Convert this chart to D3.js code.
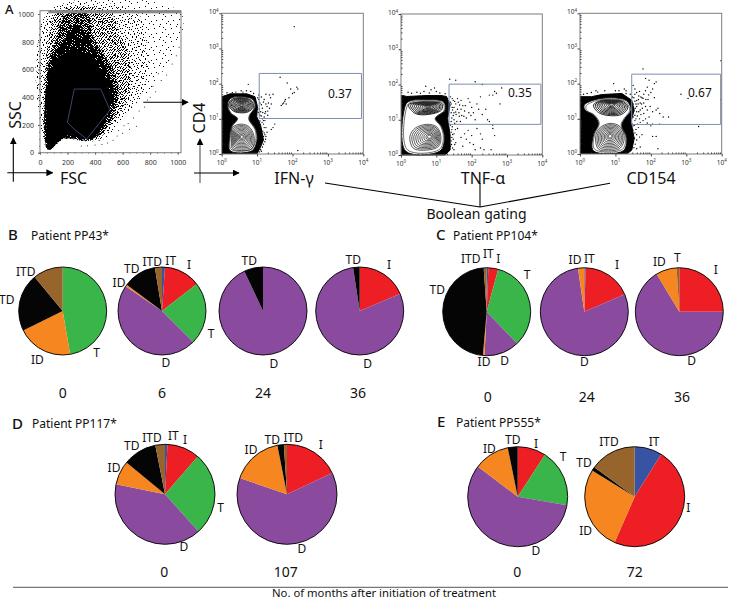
<!DOCTYPE html>
<html><head><meta charset="utf-8">
<script src="https://cdn.jsdelivr.net/npm/d3@7"></script>
<style>
html,body{margin:0;padding:0;background:#fff}
svg{display:block}
text{font-family:"Noto Sans",sans-serif;fill:#111}
</style></head><body>
<svg id="c" width="729" height="599" viewBox="0 0 729 599"></svg>
<script>
// ---------- pie data: percent per cytokine subset, clockwise from 12 o'clock ----------
const subsets = ["IT","I","T","D","ID","TD","ITD"];
const subsetColors = ["#3953a4","#ed1f24","#39b54a","#8a4b9e","#f6861f","#050505","#97652c"];
const pp43m0   = [0,0,47.3,0,20.4,21.3,11.0];
const pp43m6   = [1.1,13.4,23,47,0.7,12.2,2.6];
const pp43m24  = [0,0,0,93,0,7,0];
const pp43m36  = [0,18.6,0,79,0,2.4,0];
const pp104m0  = [0.6,3.6,33.7,12.9,0.6,47.5,1.1];
const pp104m24 = [0.5,18,0,79.2,2.3,0,0];
const pp104m36 = [0,25,0,66.4,7.6,0,1];
const pp117m0  = [0.8,10.6,26.9,39.9,7.8,10.9,3.1];
const pp117m107= [0,18,0,62.3,16.6,2.1,1];
const pp555m0  = [0,9.2,18.5,57.6,11.5,3.2,0];
const pp555m72 = [8.9,47.7,0,0,27.2,1.2,15];

// ---------- flow cytometry data (panel A) ----------
const fscTicks = [0,200,400,600,800,1000];
const sscTicks = [0,200,400,600,800,1000];
const logTicks = [1,10,100,1000,10000];
const gateValues = ["0.37","0.35","0.67"];
const markerNames = ["IFN-γ","TNF-α","CD154"];
// scatter density outlines in [FSC,SSC], thinnest first
const fscBand1 = [[60,1017],[1016,1017],[1016,800],[900,600],[780,430],[600,260],[440,95],[320,82],[170,95],[60,19]];
const fscBand2 = [[60,1017],[700,1017],[760,850],[790,650],[740,440],[620,280],[470,100],[320,84],[170,97],[60,19]];
const fscBand3 = [[60,800],[130,1017],[500,1017],[580,860],[640,720],[660,560],[640,400],[540,240],[430,105],[320,85],[170,100],[60,19]];
const fscBand4 = [[60,640],[110,800],[190,1000],[350,1010],[380,850],[430,760],[520,620],[570,480],[550,320],[460,150],[340,90],[170,100],[60,20]];
const fscBand5 = [[60,600],[110,720],[180,820],[250,920],[320,880],[380,770],[440,690],[510,550],[540,400],[480,220],[390,105],[300,95],[170,105],[60,22]];
const fscSolid = [[60,31],[60,520],[85,600],[121,680],[194,720],[280,730],[380,680],[440,600],[490,480],[510,370],[480,250],[410,130],[339,100],[250,130],[157,110],[73,31]];
const fscGate  = [[249,459],[441,459],[508,308],[339,99],[254,164],[199,219]];
const fscOutliers = [[560,120],[600,140],[570,160],[640,210],[680,250],[720,300],[760,330],[700,190],[650,170],[800,400],[840,440],[880,520],[920,560],[960,640],[990,700],[1010,760],[820,480],[860,570],[780,380],[610,195],[530,90],[490,70],[450,60],[400,55],[345,50],[300,48]];
// contour plot data, exponents [log10 x, log10 y]
const ifnBlob = [[.01,0],[.01,1.63],[.235,1.71],[.71,1.71],[.94,1.63],[1.01,1.35],[.99,1.06],[1.10,.82],[1.18,.40],[1.08,.16],[.99,0]];
const ifnOuter = [[.16,1.39],[.25,1.58],[.56,1.63],[.88,1.55],[.95,1.34],[.80,1.11],[.78,.98],[.97,.68],[.99,.35],[.85,.09],[.24,.09],[.22,.45],[.28,.78],[.44,1.01],[.25,1.16]];
const ifnUpper = [[.2,1.4],[.3,1.55],[.56,1.6],[.82,1.52],[.9,1.34],[.75,1.2],[.56,1.17],[.33,1.22]];
const ifnLower = [[.3,.75],[.56,.85],[.8,.75],[.92,.45],[.85,.15],[.56,.1],[.3,.15],[.28,.45]];
const ifnCentres = [[.565,1.39],[.565,.49]];
const ifnGate = [1.06,3.95,1.01,2.29];
const ifnDots = [[2.05,3.62],[1.65,2.18],[1.85,2.02],[1.95,1.85],[2.12,1.9],[2.15,1.85],[2.05,1.75],[2.0,1.72],[1.9,1.6],[1.8,1.55],[1.75,1.45],[1.72,1.42],[1.68,1.38],[1.78,1.5],[1.82,1.42],[1.45,1.7],[1.35,1.68],[1.38,1.6],[1.25,1.7],[1.2,1.55],[1.28,1.35],[1.35,1.3],[1.22,1.15],[1.3,1.1],[1.5,.85],[1.45,.75],[1.4,.7],[2.15,.1],[.75,1.98],[.55,1.8],[.7,1.8],[.82,1.78],[1.05,1.55],[1.08,1.45],[1.12,1.4],[1.15,1.3],[1.1,1.2],[1.08,1.1],[1.15,1.0],[1.22,.95],[1.18,.85],[1.25,.75],[1.2,.6],[1.25,.5],[1.22,.35],[1.15,.2],[1.1,.12],[1.05,1.68],[1.12,1.62],[1.18,1.48],[1.25,1.42],[1.32,1.45],[1.4,1.42],[1.3,1.22],[1.12,.7],[1.28,.62],[1.02,1.6],[1.06,1.28],[1.04,1.18],[1.12,1.08],[1.18,.95],[1.14,.9],[1.2,.75],[1.16,.65],[1.22,.55],[1.18,.5],[1.24,.42],[1.18,.28],[1.12,.08],[1.06,.06],[.4,1.76],[.3,1.74],[.6,1.76],[.9,1.72],[.15,1.74],[1.08,.94],[1.24,1.2],[1.16,1.18],[1.2,1.05]];
const tnfBlob = [[.02,0],[0,1.7],[.16,1.66],[.58,1.68],[1.06,1.70],[1.29,1.66],[1.39,1.42],[1.32,1.04],[1.39,.57],[1.39,.14],[1.25,0]];
const tnfOuter = [[.13,1.42],[.25,1.53],[.77,1.57],[1.2,1.51],[1.25,1.28],[.98,1.04],[1.15,.80],[1.23,.47],[1.10,.11],[.13,.11]];
const tnfUpper = [[.21,1.42],[.4,1.49],[.77,1.51],[1.15,1.46],[1.15,1.28],[.77,1.15],[.4,1.18]];
const tnfLower = [[.25,.52],[.4,.76],[.73,.87],[1.01,.80],[1.13,.52],[1.06,.24],[.73,.14],[.35,.19]];
const tnfCentres = [[.77,1.37],[.82,.52]];
const tnfGate = [1.36,3.96,.87,2.01];
const tnfDots = [[1.4,1.5],[1.45,1.35],[1.5,1.2],[1.55,1.45],[1.6,1.3],[1.65,1.1],[1.7,1.55],[1.75,1.4],[1.8,1.25],[1.85,1.05],[1.9,1.6],[1.95,1.5],[2.0,1.35],[2.05,1.2],[2.1,1.0],[2.15,1.45],[2.2,1.3],[2.25,1.65],[2.3,1.15],[2.4,1.3],[2.45,1.0],[2.5,.95],[2.5,1.7],[2.6,.85],[2.6,.75],[2.65,1.8],[2.7,1.75],[2.8,1.45],[2.85,1.9],[2.6,1.7],[1.38,2.15],[1.55,2.12],[2.1,2.08],[2.3,2.0],[.7,1.95],[.85,1.85],[1.0,1.8],[.55,1.75],[.3,1.75],[.95,1.9],[1.45,.8],[1.5,.6],[1.55,.35],[1.6,.75],[1.7,.5],[1.75,.25],[1.8,.6],[1.85,.45],[1.9,.7],[1.95,.35],[2.0,.55],[2.05,.3],[2.15,.75],[2.25,.6],[2.25,.2],[2.3,.45],[2.35,.15],[2.55,.15],[2.65,.55],[2.1,.15],[1.5,.15],[1.4,1.65],[1.42,1.2],[1.44,1.05],[1.42,.95],[1.4,.85],[1.42,.65],[1.44,.5],[1.42,.4],[1.4,.25],[1.46,.2],[1.48,1.55],[1.5,1.0],[1.52,.9],[1.48,.45],[1.56,1.15],[1.58,.95],[1.62,1.5],[1.64,1.2],[1.68,.95],[1.7,1.3],[1.72,1.12],[1.78,1.1],[1.82,1.4],[1.45,1.6],[1.42,1.45],[1.46,1.28],[1.48,1.12],[1.44,.72],[1.46,.58],[1.43,.3],[1.5,1.35],[1.52,1.52],[1.55,1.22],[1.54,.72],[1.52,.3],[1.6,1.6],[1.66,1.42],[1.92,1.2],[1.98,1.12],[.2,1.78],[.45,1.78],[.65,1.8],[.8,1.76],[1.1,1.76],[1.25,1.74]];
const cdBlob = [[0,0],[0,1.63],[.33,1.63],[.61,1.69],[1.18,1.72],[1.46,1.53],[1.53,1.25],[1.44,.92],[1.53,.44],[1.46,.11],[1.32,0]];
const cdOuter = [[.12,1.39],[.38,1.53],[.89,1.6],[1.32,1.51],[1.44,1.25],[1.27,1.01],[1.18,.82],[1.32,.45],[1.22,.09],[.38,.09],[.38,.54],[.52,.87],[.38,1.11],[.14,1.25]];
const cdUpper = [[.38,1.39],[.56,1.51],[.89,1.54],[1.22,1.49],[1.35,1.32],[1.18,1.13],[.85,1.09],[.52,1.18]];
const cdLower = [[.44,.45],[.54,.73],[.85,.87],[1.13,.78],[1.25,.45],[1.13,.16],[.8,.09],[.52,.14]];
const cdCentres = [[.89,1.41],[.85,.51]];
const cdGate = [1.46,3.97,.84,2.27];
const cdDots = [[1.55,1.7],[1.65,1.55],[1.7,1.45],[1.75,1.6],[1.8,1.7],[1.85,1.8],[1.9,1.9],[1.95,2.1],[2.0,1.75],[2.05,1.85],[2.1,2.0],[2.15,2.05],[2.1,1.6],[1.6,1.35],[1.7,1.25],[1.8,1.15],[1.85,1.35],[1.9,1.25],[1.95,1.05],[2.05,1.2],[2.15,1.25],[2.2,1.3],[2.25,1.15],[2.35,1.05],[2.5,1.05],[2.85,1.7],[3.05,1.58],[3.98,2.65],[3.97,1.55],[3.35,.78],[1.5,.8],[1.55,.6],[1.6,.4],[1.65,.75],[1.7,.2],[1.75,.55],[1.6,.15],[2.05,.5],[2.15,.5],[2.05,.85],[2.2,.15],[2.0,.8],[.95,2.0],[.45,1.8],[1.25,1.85],[1.3,1.8],[1.5,1.95],[1.55,1.85],[1.85,2.15],[2.25,.85],[1.78,2.42],[1.52,1.6],[1.55,1.5],[1.58,1.42],[1.56,1.3],[1.6,1.2],[1.55,1.1],[1.58,1.0],[1.62,1.08],[1.68,1.0],[1.72,1.12],[1.76,1.3],[1.72,1.62],[1.6,1.75],[1.68,1.78],[1.8,1.45],[1.92,1.55],[1.98,1.35],[1.55,.95],[1.62,.85],[1.7,.9],[1.78,.95],[1.58,.7],[1.54,.45],[1.56,.28],[1.52,.18],[1.6,.55],[1.68,.48],[1.85,1.0],[1.9,.88],[1.48,1.62],[1.5,1.42],[1.52,1.22],[1.5,1.05],[1.48,.85],[1.5,.68],[1.47,.38],[1.46,.25],[1.54,.82],[1.6,1.52],[1.64,1.42],[1.66,1.2],[1.74,1.42],[1.66,1.65],[1.78,1.58],[1.86,1.55],[1.94,1.68],[.1,1.7],[.2,1.72],[.32,1.75],[.5,1.76],[.7,1.8],[1.0,1.8],[1.1,1.8],[1.3,1.72],[1.42,1.7]];

// ---------- layout (kept apart from the values) ----------
const svg = d3.select("#c");
const BOXC = "#7d7d7d", GATE = "#7f8cb4";
const pies = [
 {v:pp43m0,cx:62.7,cy:311,r:44,month:"0",mx:62.7,my:398,labels:[["ITD",25.7,276],["TD",6.7,304],["ID",37.3,364],["T",96.7,357]]},
 {v:pp43m6,cx:162,cy:311,r:44,month:"6",mx:162,my:398,labels:[["ID",119,287],["TD",131.7,273],["ITD",152.3,266],["IT",170.7,265],["I",189,269],["T",211,338],["D",166,367]]},
 {v:pp43m24,cx:263,cy:311,r:44,month:"24",mx:263,my:398,labels:[["TD",249.3,265],["D",274,368]]},
 {v:pp43m36,cx:359.7,cy:311,r:44,month:"36",mx:358,my:398,labels:[["TD",353.3,264],["I",389,269],["D",367.7,368]]},
 {v:pp104m0,cx:486.7,cy:311.7,r:44,month:"0",mx:487.7,my:402,labels:[["ITD",470.7,263],["IT",488.3,258],["I",498.3,263],["T",527,279],["TD",437.3,294],["ID",484,366],["D",504.7,365]]},
 {v:pp104m24,cx:584.3,cy:311.7,r:44,month:"24",mx:586.7,my:402,labels:[["ID",575,264],["IT",589.3,263],["I",617,269],["D",584.3,366]]},
 {v:pp104m36,cx:679.3,cy:311.7,r:44,month:"36",mx:682,my:402,labels:[["ID",659.3,266],["T",677.3,262],["I",715.7,274],["D",691.7,365]]},
 {v:pp117m0,cx:165,cy:494.3,r:50,month:"0",mx:164.3,my:577,labels:[["ITD",152,442],["IT",173.3,440],["I",185,444],["TD",131.7,450],["ID",114,472],["T",220.7,512],["D",184,551]]},
 {v:pp117m107,cx:287,cy:494.3,r:50,month:"107",mx:285.7,my:577,labels:[["TD",272.3,444],["ITD",293.3,442],["I",320.7,449],["ID",251,454],["D",302,553]]},
 {v:pp555m0,cx:517.7,cy:496.7,r:50,month:"0",mx:517.3,my:577,labels:[["TD",512.7,444],["ID",489.3,453],["I",536,448],["T",563,461],["D",536,555]]},
 {v:pp555m72,cx:634.7,cy:496.7,r:50,month:"72",mx:634.7,my:577,labels:[["ITD",609,446],["IT",654,446],["TD",584,467],["I",688.3,512],["ID",585.7,535]]}
];
const headings = [
 ["A",5,14,13],["B",8,240,15],["C",436,240,15],["D",12,429,15],["E",437,427,15],
 ["Patient PP43*",31,240,12],["Patient PP104*",453,240,12],["Patient PP117*",32,428,12],["Patient PP555*",456,427,12]
];

// ---------- stipple textures: dots in a repeating tile ----------
const defs = svg.append("defs");
const textures = {
 t1:{w:17,h:13,dots:[[1,2],[6,0],[12,3],[15,8],[3,7],[9,6],[7,11],[13,10],[0,11],[10,1]]},
 t2:{w:13,h:11,dots:[[0,1],[4,0],[8,2],[11,0],[2,4],[6,3],[10,5],[12,7],[1,7],[5,6],[8,8],[3,9],[7,10],[11,10]]},
 t3:{w:11,h:7,dots:[[0,0],[2,0],[5,0],[8,0],[1,1],[4,1],[7,1],[10,1],[3,2],[6,2],[9,3],[0,3],[2,4],[5,4],[8,4],[10,5],[1,5],[4,5],[7,6],[3,6]]},
 t4:{w:7,h:5,dots:[[0,0],[1,0],[3,0],[5,0],[6,0],[1,1],[2,1],[4,1],[6,1],[0,2],[3,2],[4,2],[5,2],[1,3],[2,3],[5,3],[6,3],[0,4],[3,4],[4,4]]},
 t5:{w:5,h:3,dots:[[0,0],[1,0],[3,0],[4,0],[1,1],[2,1],[3,1],[0,2],[2,2],[3,2],[4,2]]}
};
Object.entries(textures).forEach(([k,t])=>{
  const p = defs.append("pattern").attr("id",k).attr("patternUnits","userSpaceOnUse").attr("width",t.w).attr("height",t.h);
  p.selectAll("rect").data(t.dots).join("rect").attr("x",d=>d[0]).attr("y",d=>d[1]).attr("width",1).attr("height",1).attr("fill","#000");
});
defs.append("filter").attr("id","soft").attr("x","0").attr("y","0").attr("width","1").attr("height","1")
  .append("feGaussianBlur").attr("stdDeviation",.3);
const arrowM = defs.append("marker").attr("id","ah").attr("viewBox","0 0 10 10").attr("refX",9).attr("refY",5).attr("markerWidth",7).attr("markerHeight",7).attr("markerUnits","userSpaceOnUse").attr("orient","auto");
arrowM.append("path").attr("d","M0,0L10,5L0,10Z").attr("fill","#000");

// ---------- scatter plot FSC / SSC ----------
(function(){
  const x = d3.scaleLinear().domain([0,1024]).range([40,181]);
  const y = d3.scaleLinear().domain([0,1024]).range([152.7,10.7]);
  const g = svg.append("g");
  const poly = d3.line().x(d=>x(d[0])).y(d=>y(d[1])).curve(d3.curveLinearClosed);
  const smooth = d3.line().x(d=>x(d[0])).y(d=>y(d[1])).curve(d3.curveCatmullRomClosed.alpha(.5));
  const cloud = g.append("g").attr("filter","url(#soft)");
  [[fscBand1,"t1"],[fscBand2,"t2"],[fscBand3,"t3"],[fscBand4,"t4"],[fscBand5,"t5"]].forEach(([b,t])=>{
    cloud.append("path").attr("d",smooth(b)).attr("fill",`url(#${t})`);
  });
  cloud.append("path").attr("d",smooth(fscSolid)).attr("fill","#000");
  cloud.append("g").selectAll("circle").data(fscOutliers).join("circle").attr("cx",d=>x(d[0])).attr("cy",d=>y(d[1])).attr("r",.5).attr("fill","#000");
  g.append("path").attr("d",poly(fscGate)).attr("fill","none").attr("stroke","#47568c").attr("stroke-width",.8);
  g.append("rect").attr("x",x(60)).attr("y",y(1024)).attr("width",x(1024)-x(60)).attr("height",y(1005)-y(1024)).attr("fill","#8a8a8a");
  g.append("rect").attr("x",40).attr("y",10.7).attr("width",141).attr("height",142).attr("fill","none").attr("stroke",BOXC);
  const minor = d3.range(0,1001,50);
  const ax = d3.axisBottom(x).tickValues(fscTicks).tickSize(2).tickPadding(5).tickFormat(d3.format("d"));
  const ay = d3.axisLeft(y).tickValues(sscTicks).tickSize(2).tickPadding(4).tickFormat(d3.format("d"));
  [[ax,`translate(0,152.7)`],[ay,`translate(40,0)`]].forEach(([a,t])=>{
    const s = g.append("g").attr("transform",t).call(a);
    s.select(".domain").remove();
    s.selectAll("line").attr("stroke","#555");
    s.selectAll("text").attr("font-size",7).style("fill","#333");
  });
  g.append("g").attr("transform","translate(0,152.7)").call(d3.axisBottom(x).tickValues(minor).tickSize(1).tickFormat("")).call(s=>s.select(".domain").remove()).selectAll("line").attr("stroke","#777");
  g.append("g").attr("transform","translate(40,0)").call(d3.axisLeft(y).tickValues(minor).tickSize(1).tickFormat("")).call(s=>s.select(".domain").remove()).selectAll("line").attr("stroke","#777");
})();

// ---------- contour plots ----------
const rings = [1,.9,.8,.7,.6,.5,.4,.3,.2,.12];
function contourPanel(o){
  const x = d3.scaleLog().domain([1,10000]).range([o.x0,o.x1]);
  const y = d3.scaleLog().domain([1,10000]).range([o.y0,o.y1]);
  const X = e=>x(Math.pow(10,e)), Y = e=>y(Math.pow(10,e));
  const g = svg.append("g");
  const soft = g.append("g").attr("filter","url(#soft)");
  const line = d3.line().x(d=>X(d[0])).y(d=>Y(d[1])).curve(d3.curveCatmullRomClosed.alpha(.5));
  const lineLin = d3.line().x(d=>X(d[0])).y(d=>Y(d[1])).curve(d3.curveLinearClosed);
  soft.append("path").attr("d",lineLin(o.blob)).attr("fill","#000").attr("stroke","#000").attr("stroke-width",1).attr("stroke-linejoin","round");
  soft.append("path").attr("d",line(o.outer)).attr("fill","#fff").attr("stroke","#111").attr("stroke-width",1);
  const mid = [d3.mean(o.centres,c=>c[0]),d3.mean(o.centres,c=>c[1])];
  soft.append("path").attr("d",line(o.outer.map(p=>[mid[0]+.93*(p[0]-mid[0]),mid[1]+.95*(p[1]-mid[1])]))).attr("fill","none").attr("stroke","#333").attr("stroke-width",.7);
  [[o.upper,o.centres[0],1],[o.lower,o.centres[1],.75]].forEach(([shape,c,w])=>{
    rings.forEach(k=>{
      soft.append("path").attr("d",line(shape.map(p=>[c[0]+k*(p[0]-c[0]),c[1]+k*(p[1]-c[1])])))
        .attr("fill",k===.12?"#fff":"none").attr("stroke","#222").attr("stroke-width",w);
    });
  });
  g.append("g").selectAll("circle").data(o.dots).join("circle").attr("cx",d=>X(d[0])).attr("cy",d=>Y(d[1])).attr("r",.7).attr("fill","#000");
  const gate = [[o.gate[0],o.gate[2]],[o.gate[1],o.gate[2]],[o.gate[1],o.gate[3]],[o.gate[0],o.gate[3]]];
  g.append("path").attr("d",lineLin(gate)).attr("fill","none").attr("stroke",GATE).attr("stroke-width",1);
  g.append("rect").attr("x",o.x0).attr("y",o.y1).attr("width",o.x1-o.x0).attr("height",o.y0-o.y1).attr("fill","none").attr("stroke",BOXC);
  const minor = [];
  for(const d of logTicks.slice(0,4)) for(let m=2;m<10;m++) minor.push(d*m);
  const cfg = [[d3.axisBottom(x),`translate(0,${o.y0})`],[d3.axisLeft(y),`translate(${o.x0},0)`]];
  cfg.forEach(([a,t])=>{
    const s1 = g.append("g").attr("transform",t).call(a.tickValues(logTicks).tickSize(2.5).tickFormat(""));
    s1.select(".domain").remove(); s1.selectAll("line").attr("stroke","#444");
    const s2 = g.append("g").attr("transform",t).call(a.tickValues(minor).tickSizeOuter(0).tickSizeInner(-1.5).tickFormat(""));
    s2.select(".domain").remove(); s2.selectAll("line").attr("stroke","#444");
  });
  logTicks.forEach((v,i)=>{
    const tx = g.append("text").attr("x",x(v)).attr("y",o.y0+10.5).attr("text-anchor","middle").attr("font-size",6.5).style("fill","#333");
    tx.append("tspan").text("10"); tx.append("tspan").attr("dy",-2.5).attr("font-size",4.5).text(i);
    const ty = g.append("text").attr("x",o.x0-3).attr("y",y(v)+1).attr("text-anchor","end").attr("font-size",6.5).style("fill","#333");
    ty.append("tspan").text("10"); ty.append("tspan").attr("dy",-2.5).attr("font-size",4.5).text(i);
  });
  svg.append("text").attr("x",o.vx).attr("y",o.vy).attr("font-size",12).text(o.value);
  svg.append("text").attr("x",o.nx).attr("y",184).attr("text-anchor","middle").attr("font-size",16).text(o.name);
}
contourPanel({x0:221.7,x1:363.3,y0:154,y1:13.3,blob:ifnBlob,outer:ifnOuter,upper:ifnUpper,lower:ifnLower,centres:ifnCentres,gate:ifnGate,dots:ifnDots,value:gateValues[0],vx:328,vy:98,name:markerNames[0],nx:294});
contourPanel({x0:401,x1:542.3,y0:155,y1:14,blob:tnfBlob,outer:tnfOuter,upper:tnfUpper,lower:tnfLower,centres:tnfCentres,gate:tnfGate,dots:tnfDots,value:gateValues[1],vx:508,vy:97,name:markerNames[1],nx:483});
contourPanel({x0:580,x1:721.7,y0:154,y1:13.3,blob:cdBlob,outer:cdOuter,upper:cdUpper,lower:cdLower,centres:cdCentres,gate:cdGate,dots:cdDots,value:gateValues[2],vx:688,vy:97,name:markerNames[2],nx:651});

// ---------- arrows, connectors, axis names ----------
const arrows = [[13.3,181.7,13.3,138,"#000"],[7.3,172.7,52.7,172.7,"#000"],[200,183,200,139,"#555"],[194,173,239,173,"#000"],[143.3,102.3,188,102.3,"#000"]];
svg.append("g").selectAll("line").data(arrows).join("line")
  .attr("x1",d=>d[0]).attr("y1",d=>d[1]).attr("x2",d=>d[2]).attr("y2",d=>d[3]).attr("stroke",d=>d[4]).attr("stroke-width",1.1).attr("marker-end","url(#ah)");
const connectors = [[325,183,480,207],[610,183.3,480,207],[480,183,480,207]];
svg.append("g").selectAll("line").data(connectors).join("line")
  .attr("x1",d=>d[0]).attr("y1",d=>d[1]).attr("x2",d=>d[2]).attr("y2",d=>d[3]).attr("stroke","#000").attr("stroke-width",1.1);
svg.append("text").attr("x",476.5).attr("y",219).attr("text-anchor","middle").attr("font-size",14).text("Boolean gating");
svg.append("text").attr("x",73.5).attr("y",184).attr("text-anchor","middle").attr("font-size",16).text("FSC");
svg.append("text").attr("transform","translate(20.5,115) rotate(-90)").attr("text-anchor","middle").attr("font-size",16).text("SSC");
svg.append("text").attr("transform","translate(204.5,118) rotate(-90)").attr("text-anchor","middle").attr("font-size",16).text("CD4");

// ---------- pies ----------
const pieGen = d3.pie().sort(null).value(d=>d);
const color = d3.scaleOrdinal(subsets,subsetColors);
pies.forEach(P=>{
  const g = svg.append("g").attr("transform",`translate(${P.cx},${P.cy})`);
  const arc = d3.arc().innerRadius(0).outerRadius(P.r);
  g.selectAll("path").data(pieGen(P.v)).join("path").attr("d",arc).attr("fill",(d,i)=>color(subsets[i]));
  g.append("circle").attr("r",P.r).attr("fill","none").attr("stroke","#000").attr("stroke-width",.9);
  svg.append("g").selectAll("text").data(P.labels).join("text").attr("x",d=>d[1]).attr("y",d=>d[2]).attr("text-anchor","middle").attr("font-size",12).text(d=>d[0]);
  svg.append("text").attr("x",P.mx).attr("y",P.my).attr("text-anchor","middle").attr("font-size",14).text(P.month);
});
svg.append("g").selectAll("text").data(headings).join("text").attr("x",d=>d[1]).attr("y",d=>d[2]).attr("font-size",d=>d[3]).attr("font-weight",d=>d[0].length===1?500:400).text(d=>d[0]);

// ---------- footer ----------
svg.append("line").attr("x1",13).attr("x2",728).attr("y1",587.3).attr("y2",587.3).attr("stroke","#444").attr("stroke-width",.9);
svg.append("text").attr("x",384).attr("y",597).attr("text-anchor","middle").attr("font-size",11.3).text("No. of months after initiation of treatment");
</script>
</body></html>
